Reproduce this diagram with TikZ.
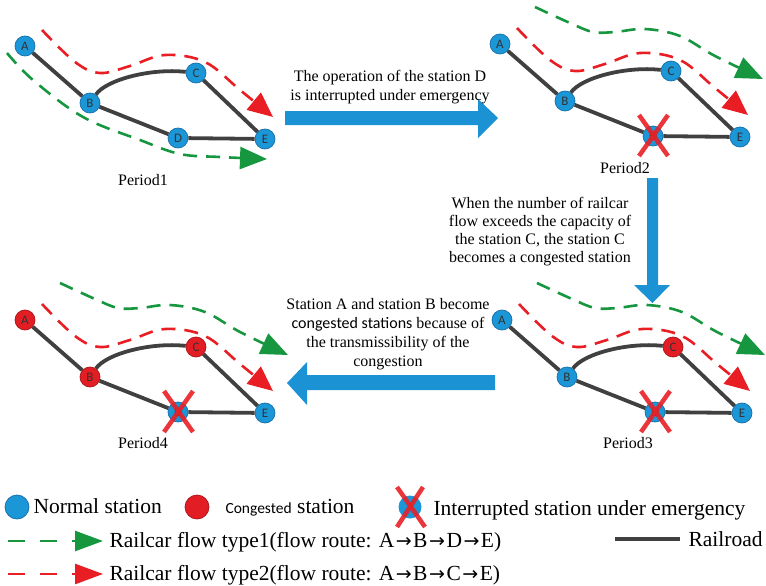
\documentclass[tikz,border=0pt]{standalone}
\usepackage{fontspec}
\setmainfont{Liberation Serif}
\newfontfamily\lblfont{Carlito}
\newfontfamily\symfont{DejaVu Sans}
\usetikzlibrary{arrows.meta}

\definecolor{stblue}{RGB}{27,150,214}
\definecolor{stblueedge}{RGB}{22,110,170}
\definecolor{stred}{RGB}{226,30,36}
\definecolor{stredge}{RGB}{170,20,25}
\definecolor{rail}{RGB}{64,64,64}
\definecolor{flowgreen}{RGB}{22,150,62}
\definecolor{flowred}{RGB}{232,30,36}
\definecolor{xred}{RGB}{232,32,38}
\definecolor{bigarrow}{RGB}{26,146,212}

\tikzset{
  station/.style={circle, minimum size=20pt, inner sep=0pt, fill=stblue,
    draw=stblueedge, line width=0.7pt, text=black!80,
    font=\lblfont\fontsize{13}{13}\selectfont},
  congested/.style={station, fill=stred, draw=stredge},
  railroad/.style={draw=rail, line width=3.8pt},
  flowline/.style={line width=2.6pt, dash pattern=on 14pt off 9pt},
  flowA/.style={flowline, draw=flowgreen, -{Triangle[length=27pt,width=22pt]}},
  flowB/.style={flowline, draw=flowred, -{Triangle[length=25pt,width=22pt]}},
  cut/.style={draw=xred, line width=4.5pt, opacity=0.9},
  note/.style={align=center, font=\fontsize{16}{19}\selectfont},
  periodlabel/.style={font=\fontsize{16}{16}\selectfont},
  legendtext/.style={anchor=base west, font=\fontsize{21.5}{22}\selectfont},
  blockarrow/.style={fill=bigarrow}
}

% one small rail network: stations A..E, tracks and the type-2 flow
\newcommand{\railnet}[5]{%
  \begin{scope}[shift={#2}]
    \node[#3] (#1A) at (25,46) {A};
    \node[#4] (#1B) at (90,103) {B};
    \node[#5] (#1C) at (196,73) {C};
    \node[station] (#1D) at (178,138) {D};
    \node[station] (#1E) at (265,139) {E};
    \draw[railroad] (#1A) -- (#1B);
    \draw[railroad] (#1B) .. controls (106,80) and (150,68) .. (#1C);
    \draw[railroad] (#1B) -- (#1D);
    \draw[railroad] (#1C) -- (#1E);
    \draw[railroad] (#1D) -- (#1E);
    \draw[flowB] plot[smooth, tension=0.6] coordinates
      {(42,30) (75,62) (100,73) (130,66) (165,55) (205,62) (240,90) (273,117)};
  \end{scope}}

% interrupted station mark
\newcommand{\cutmark}[1]{%
  \draw[cut] (#1.center) ++(-14,-21) -- ++(29,41);
  \draw[cut] (#1.center) ++(15,-21) -- ++(-29,41);}

% type-1 flow drawn above the network
\newcommand{\upperflow}[1]{%
  \begin{scope}[shift={#1}]
    \draw[flowA] plot[smooth, tension=0.6] coordinates
      {(60,9) (95,25) (118,34) (140,34) (170,31) (205,38) (240,58) (288,81)};
  \end{scope}}

\newcommand{\arr}{\kern1.5pt{\symfont\fontsize{19}{19}\selectfont →}\kern1.5pt}

\begin{document}
\begin{tikzpicture}[x=1pt, y=-1pt]
\useasboundingbox (0,0) rectangle (766,586);

% ---------- Period 1 ----------
\railnet{p}{(0,0)}{station}{station}{station}
\draw[flowA] plot[smooth, tension=0.6] coordinates
  {(7,53) (33,80) (83,117) (140,140) (180,154) (220,157) (267,159)};
\node[periodlabel] (lab1) at (143,180) {Period1};

% ---------- Period 2 ----------
\railnet{q}{(475,-2)}{station}{station}{station}
\cutmark{qD}
\upperflow{(475,-2)}
\node[periodlabel] (lab2) at (625,168) {Period2};

% ---------- Period 3 ----------
\railnet{r}{(477,274)}{station}{station}{congested}
\cutmark{rD}
\upperflow{(477,274)}
\node[periodlabel] (lab3) at (628,443) {Period3};

% ---------- Period 4 ----------
\railnet{s}{(0,274)}{congested}{congested}{congested}
\cutmark{sD}
\upperflow{(0,274)}
\node[periodlabel] (lab4) at (143,443) {Period4};

% ---------- transitions ----------
\fill[blockarrow] (285,111) -- (478,111) -- (478,99) -- (498,118) -- (478,138)
  -- (478,125) -- (285,125) -- cycle;
\node[note] (t1) at (390,87) {The operation of the station D\\is interrupted under emergency};

\fill[blockarrow] (647,178) -- (658,178) -- (658,285) -- (670,285) -- (652.5,303)
  -- (634,285) -- (647,285) -- cycle;
\node[note, font=\fontsize{16}{18}\selectfont] (t2) at (540,232)
  {When the number of railcar\\flow exceeds the capacity of\\the station C, the station C\\becomes a congested station};

\fill[blockarrow] (495,375) -- (307,375) -- (307,362) -- (287,383) -- (307,405)
  -- (307,390) -- (495,390) -- cycle;
\node[note] (t3) at (388,334)
  {Station A and station B become\\{\lblfont congested stations} because of\\the transmissibility of the\\congestion};

% ---------- legend ----------
\node[station, minimum size=24pt] (lgN) at (17,507) {};
\node[legendtext] (lgNt) at (30,513) {Normal station};
\node[congested, minimum size=24pt] (lgC) at (197,507) {};
\node[legendtext] (lgCt) at (222,513)
  {{\lblfont\fontsize{15.5}{16}\selectfont Congested} station};
\node[station, minimum width=20pt, minimum height=23pt, draw=none] (lgX) at (410,507) {};
\draw[cut] (397,487) -- (425,527);
\draw[cut] (423,487) -- (397,527);
\node[legendtext] (lgXt) at (430,515) {Interrupted station under emergency};

\coordinate (lg1a) at (8,541);
\coordinate (lg1b) at (103,541);
\draw[flowA, dash pattern=on 17pt off 15pt, -{Triangle[length=28pt,width=20pt]}] (lg1a) -- (lg1b);
\node[legendtext] (lg1t) at (106,547) {Railcar flow type1(flow route: A\arr B\arr D\arr E)};

\coordinate (lg2a) at (8,574);
\coordinate (lg2b) at (103,574);
\draw[flowB, dash pattern=on 17pt off 15pt, -{Triangle[length=28pt,width=20pt]}] (lg2a) -- (lg2b);
\node[legendtext] (lg2t) at (106,580) {Railcar flow type2(flow route: A\arr B\arr C\arr E)};

\coordinate (lgRa) at (615,539);
\coordinate (lgRb) at (680,539);
\draw[railroad] (lgRa) -- (lgRb);
\node[legendtext] (lgRt) at (685,546) {Railroad};
\end{tikzpicture}
\end{document}
